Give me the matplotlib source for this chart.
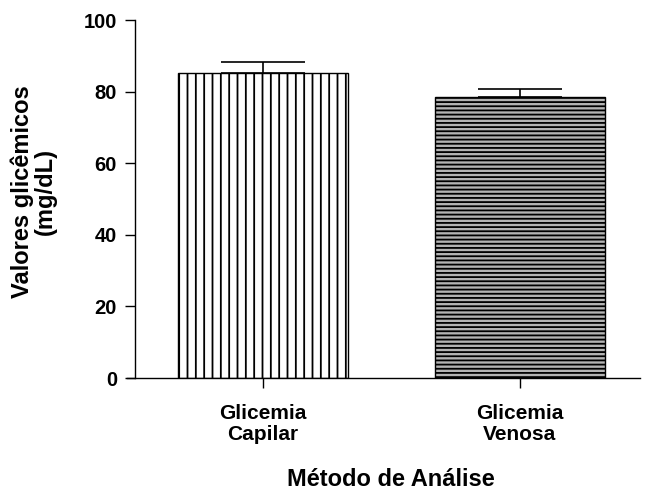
import matplotlib.pyplot as plt
import matplotlib as mpl

# dados
categorias = ["Glicemia\nCapilar", "Glicemia\nVenosa"]
medias = [85.2, 78.5]
erros_sup = [3.0, 2.2]
hachuras = ["||", "----"]
cores = ["white", "#b4b4b4"]

plt.rcParams['font.family'] = ['Liberation Sans', 'DejaVu Sans']
plt.rcParams['font.weight'] = 'bold'
mpl.rcParams['hatch.linewidth'] = 1.3

fig = plt.figure(figsize=(6.47, 4.91), dpi=100)
ax = fig.add_axes([127/647, 1 - 378/491, 513/647, 358/491])

x = [1, 2]
for xi, m, h, c in zip(x, medias, hachuras, cores):
    ax.bar(xi, m, width=0.665, color=c, hatch=h, edgecolor='black', linewidth=1.0)

ax.errorbar(x, medias, yerr=[[0, 0], erros_sup], fmt='none', ecolor='black',
            elinewidth=1.2, capsize=30, capthick=1.2)

ax.set_xlim(0.471, 2.467)
ax.set_ylim(0, 100)
ax.set_yticks([0, 20, 40, 60, 80, 100])
ax.set_xticks(x)
ax.set_xticklabels(categorias, fontsize=15, fontweight='bold', linespacing=1.1)
ax.tick_params(axis='y', labelsize=14.5, length=7, width=1, direction='out', pad=6)
ax.tick_params(axis='x', length=7, width=1, direction='out', pad=12)
for lb in ax.get_yticklabels():
    lb.set_fontweight('bold')

ax.spines['top'].set_visible(False)
ax.spines['right'].set_visible(False)
ax.spines['left'].set_position(('data', 0.502))
ax.spines['left'].set_linewidth(1)
ax.spines['bottom'].set_linewidth(1)

ax.set_ylabel("Valores glicêmicos\n(mg/dL)", fontsize=17, fontweight='bold', linespacing=1.0)
ax.yaxis.set_label_coords(-0.136, 0.52, transform=ax.transAxes)
ax.set_xlabel("Método de Análise", fontsize=17, fontweight='bold')
ax.xaxis.set_label_coords(0.515, -0.283)
ax.xaxis.label.set_va('center')

fig.savefig("out.png", dpi=100)
